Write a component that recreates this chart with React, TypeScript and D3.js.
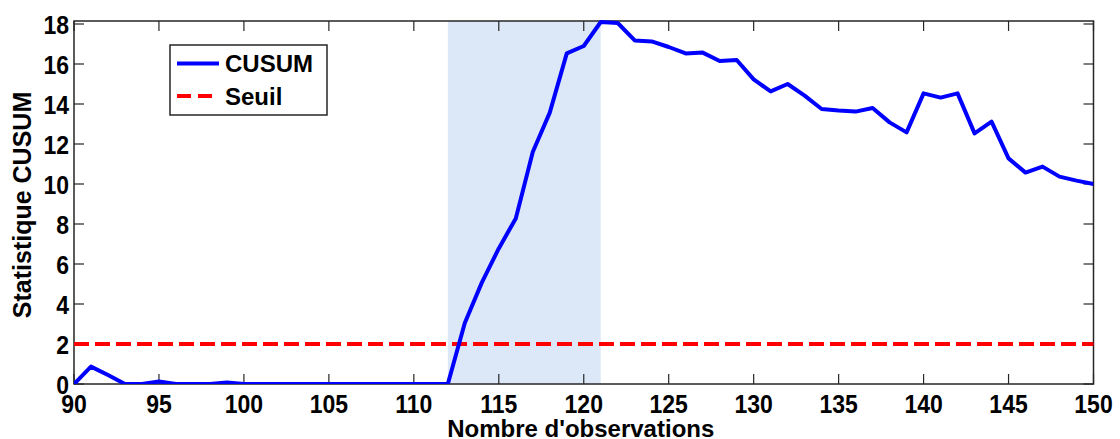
import React from "react";
import * as d3 from "d3";

const observations: number[] = d3.range(90, 151);
const cusumValues: number[] = [
  0, 0.87, 0.45, 0, 0, 0.12, 0, 0, 0, 0.08,
  0, 0, 0, 0, 0, 0, 0, 0, 0, 0,
  0, 0, 0, 3.05, 5.07, 6.78, 8.28, 11.6, 13.57, 16.53,
  16.9, 18.1, 18.05, 17.18, 17.13, 16.85, 16.53, 16.57, 16.15, 16.2,
  15.23, 14.63, 15.0, 14.42, 13.75, 13.67, 13.62, 13.8, 13.08, 12.58,
  14.53, 14.32, 14.53, 12.53, 13.12, 11.28, 10.57, 10.87, 10.37, 10.17,
  10.0,
];
const threshold = 2;
const shadeRange: [number, number] = [112, 121];
const xTicks: number[] = [90, 95, 100, 105, 110, 115, 120, 125, 130, 135, 140, 145, 150];
const yTicks: number[] = [0, 2, 4, 6, 8, 10, 12, 14, 16, 18];
const xDomain: [number, number] = [90, 150];
const yDomain: [number, number] = [0, 18.15];
const legendLabels = ["CUSUM", "Seuil"];
const xTitle = "Nombre d'observations";
const yTitle = "Statistique CUSUM";

export default function App() {
  const W = 1120, H = 439;
  const left = 74, right = 1093.5, top = 21, bottom = 384;
  const x = d3.scaleLinear().domain(xDomain).range([left, right]);
  const y = d3.scaleLinear().domain(yDomain).range([bottom, top]);
  const line = d3
    .line<number>()
    .x((_, i) => x(observations[i]))
    .y((d) => y(d));
  const font = "'Liberation Sans', Arial, Helvetica, sans-serif";
  const frameColor = "#262626";
  const tickLen = 10;

  return (
    <svg
      width={W}
      height={H}
      style={{ position: "absolute", left: 0, top: 0 }}
      fontFamily={font}
      fontWeight="bold"
    >
      <rect x={0} y={0} width={W} height={H} fill="#ffffff" />
      <defs>
        <clipPath id="plotclip">
          <rect x={left} y={top - 2} width={right - left} height={bottom - top + 2} />
        </clipPath>
      </defs>
      {/* shaded region */}
      <rect
        x={x(shadeRange[0])}
        y={top}
        width={x(shadeRange[1]) - x(shadeRange[0])}
        height={bottom - top}
        fill="#dce8f8"
      />
      {/* frame */}
      <rect
        x={left}
        y={top}
        width={right - left}
        height={bottom - top}
        fill="none"
        stroke={frameColor}
        strokeWidth={1.5}
      />
      {/* x ticks */}
      {xTicks.map((t) => (
        <g key={"xt" + t}>
          <line x1={x(t)} x2={x(t)} y1={bottom} y2={bottom - tickLen} stroke={frameColor} strokeWidth={1.2} />
          <line x1={x(t)} x2={x(t)} y1={top} y2={top + tickLen} stroke={frameColor} strokeWidth={1.2} />
          <text
            transform={`translate(${x(t)},413) scale(1,1.15)`}
            textAnchor="middle"
            fontSize={23}
            fill="#000"
          >
            {t}
          </text>
        </g>
      ))}
      {/* y ticks */}
      {yTicks.map((t) => (
        <g key={"yt" + t}>
          <line x1={left} x2={left + tickLen} y1={y(t)} y2={y(t)} stroke={frameColor} strokeWidth={1.2} />
          <line x1={right} x2={right - tickLen} y1={y(t)} y2={y(t)} stroke={frameColor} strokeWidth={1.2} />
          <text
            transform={`translate(69,${y(t) + 9.5}) scale(1,1.15)`}
            textAnchor="end"
            fontSize={23}
            fill="#000"
          >
            {t}
          </text>
        </g>
      ))}
      {/* threshold */}
      <line
        x1={x(xDomain[0])}
        x2={x(xDomain[1])}
        y1={y(threshold)}
        y2={y(threshold)}
        stroke="#ff0000"
        strokeWidth={4}
        strokeDasharray="15,6"
      />
      {/* CUSUM */}
      <path
        d={line(cusumValues) || ""}
        fill="none"
        stroke="#0000ff"
        strokeWidth={4}
        strokeLinejoin="round"
        clipPath="url(#plotclip)"
      />
      {/* legend */}
      <g>
        <rect x={170} y={45} width={157} height={70} fill="#ffffff" stroke={frameColor} strokeWidth={1.5} />
        <line x1={177} x2={219} y1={63.5} y2={63.5} stroke="#0000ff" strokeWidth={4} />
        <line x1={177} x2={219} y1={96} y2={96} stroke="#ff0000" strokeWidth={4} strokeDasharray="14,7" />
        <text x={225} y={72} fontSize={24} fill="#000">{legendLabels[0]}</text>
        <text x={225} y={105} fontSize={24} fill="#000">{legendLabels[1]}</text>
      </g>
      {/* axis titles */}
      <text x={(left + right) / 2 - 3} y={437} textAnchor="middle" fontSize={24} fill="#000">
        {xTitle}
      </text>
      <text
        transform={`translate(31,205) rotate(-90)`}
        textAnchor="middle"
        fontSize={25}
        fill="#000"
      >
        {yTitle}
      </text>
    </svg>
  );
}
